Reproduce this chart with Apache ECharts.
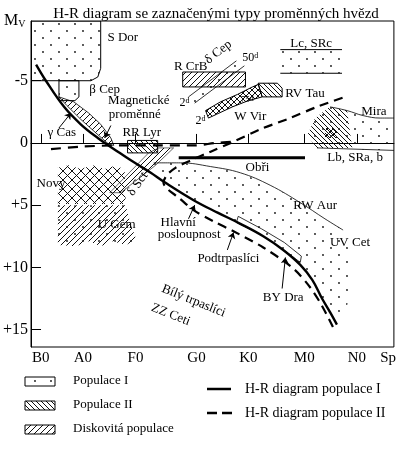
<!DOCTYPE html>
<html>
<head>
<meta charset="utf-8">
<title>H-R diagram</title>
<script src="https://cdn.jsdelivr.net/npm/echarts@6.0.0/dist/echarts.min.js"></script>
<style>
  html, body { margin: 0; padding: 0; background: #fff; }
  #chart { width: 399px; height: 450px; }
</style>
</head>
<body>
<div id="chart"></div>
<script>
// osa x: spektralni trida (libovolne jednotky 0..100), osa y: Mv
const xTickPos = [2.7, 14.3, 28.8, 45.6, 59.9, 75.3, 89.8];
const xTickLabels = ['B0', 'A0', 'F0', 'G0', 'K0', 'M0', 'N0'];
const spPos = 98.4;
const yTicks = [-5, 0, 5, 10, 15];

// H-R diagram populace I a II
const mainSeqPop1 = [[1.4, -6.3], [4.1, -5.0], [9.1, -2.9], [13.7, -1.5], [18.4, -0.4], [23.4, 0.6], [27.5, 1.4], [33.0, 2.4], [36.5, 3.1], [44.8, 4.6], [51.4, 5.6], [57.7, 6.5], [64.0, 7.5], [69.5, 8.6], [74.2, 9.8], [77.5, 11.0], [80.2, 12.5], [82.4, 13.6], [84.3, 14.6]];
const seqPop2 = [[83.2, 14.8], [80.2, 13.1], [76.9, 11.6], [72.3, 10.1], [64.0, 8.4], [55.8, 7.1], [50.3, 6.3], [44.8, 5.4], [40.7, 4.4], [37.6, 3.7], [36.5, 3.2], [37.4, 2.6], [39.8, 2.0], [44.0, 1.4], [49.5, 0.7], [55.8, -0.1], [63.2, -1.1], [71.4, -2.0], [78.8, -2.9], [86.5, -3.7]];
const horizBranchPop2 = [[5.5, 0.5], [13.7, 0.3], [24.7, 0.2], [35.7, 0.2], [45.3, 0.2], [50.8, 0.0], [55.8, -0.1]];
const giants = [[40.7, 1.2], [75.5, 1.2]];
const rwAur = [[33.8, 1.6], [41.2, 1.6], [49.5, 1.9], [57.7, 2.4], [65.9, 3.4], [74.2, 4.8], [81.0, 6.1], [86.0, 7.0]];
const uvCetEdge = [[87.9, 9.0], [87.9, 11.8], [86.5, 14.1]];

// oblasti typu promennych hvezd
const sDor = [[0, -9.8], [19.2, -9.8], [19.2, -6.0], [18.4, -5.3], [16.5, -5.0], [0, -5.0]];
const betaCep = [[7.7, -5.0], [13.2, -5.0], [13.2, -3.7], [12.1, -3.4], [7.7, -3.4]];
const magnetic = [[7.7, -3.7], [11.8, -3.3], [15.9, -2.4], [19.2, -1.5], [22.0, -0.4], [22.8, 0.2], [21.4, 0.1], [17.9, -0.8], [13.7, -1.9], [9.9, -3.0]];
const rrLyr = [[26.6, -0.2], [34.9, -0.2], [34.9, 0.8], [26.6, 0.8]];
const deltaSct = [[32.4, 0.8], [35.2, 0.4], [39.3, 0.4], [34.3, 1.8], [24.7, 4.0], [21.7, 4.0]];
const novae = [[7.4, 2.0], [10.4, 1.8], [13.7, 2.1], [17.0, 1.8], [20.3, 2.1], [23.6, 1.8], [25.8, 2.2], [26.1, 4.9], [7.4, 4.9]];
const uGem = [[7.4, 5.0], [26.1, 5.0], [27.5, 6.6], [29.1, 7.8], [26.1, 8.2], [22.5, 7.9], [19.2, 8.3], [15.9, 7.9], [12.4, 8.3], [7.4, 8.2]];
const rCrB = [[41.8, -5.7], [59.1, -5.7], [59.1, -4.5], [41.8, -4.5]];
const deltaCepA = [[43.4, -3.7], [56.6, -6.6]];
const deltaCepB = [[45.1, -3.2], [58.8, -6.2]];
const wVir = [[48.1, -2.6], [52.2, -3.3], [56.9, -3.9], [61.0, -4.5], [62.6, -4.7], [63.7, -3.7], [59.9, -3.4], [55.5, -2.9], [51.1, -2.3], [48.9, -2.0]];
const rvTau = [[62.6, -4.8], [67.9, -4.8], [69.2, -4.4], [69.2, -3.7], [63.7, -3.7]];
const lcSrcTop = [[68.7, -7.5], [85.7, -7.5]];
const lcSrcBottom = [[68.7, -5.6], [85.7, -5.6]];
const miraTop = [[82.4, -2.9], [87.1, -2.6], [91.5, -2.2], [96.2, -2.0], [100, -2.0]];
const miraBottom = [[78.8, 0.4], [100, 0.6]];
const miraLeft = [[76.1, -0.6], [78.3, -2.0]];
const miraHatch = [[76.1, -0.6], [78.3, -2.0], [82.4, -2.9], [87.1, -2.6], [88.5, 0.4], [78.8, 0.4]];
const miraCore = [[81.0, -1.2], [84.3, -1.2], [84.3, -0.4], [81.0, -0.4]];
const subdwarfs = [[57.1, 5.9], [63.5, 6.9], [69.8, 8.0], [74.5, 9.1], [74.2, 9.6], [69.2, 8.5], [62.9, 7.3], [56.6, 6.4]];

// popisky
const annoText = ['S Dor', 'β Cep', 'γ Cas', 'Magnetické', 'proměnné', 'RR Lyr', 'δ Sct', 'Novy', 'U Gem', 'R CrB', 'δ Cep', '50{s|d}', '2{s|d}', '2{s|d}', '75{s|d}', 'W Vir', 'RV Tau', 'Lc, SRc', 'Mira', 'Lb, SRa, b', 'Obři', 'RW Aur', 'UV Cet', 'Hlavní', 'posloupnost', 'Podtrpaslíci', 'BY Dra', 'Bílý trpaslíci', 'ZZ Ceti'];
const annoAt = [[25.3, -8.5], [20.3, -4.3], [8.5, -0.8], [29.7, -3.4], [28.6, -2.3], [30.5, -0.8], [29.4, 3.3], [5.5, 3.3], [23.6, 6.6], [44.0, -6.1], [51.6, -7.3], [60.4, -6.8], [42.3, -3.2], [46.7, -1.8], [59.6, -3.5], [60.4, -2.1], [75.5, -4.0], [77.2, -8.0], [94.5, -2.5], [89.3, 1.2], [62.4, 2.0], [78.3, 5.0], [87.9, 8.0], [35.7, 6.4], [34.9, 7.4], [54.4, 9.3], [69.5, 12.4], [44.8, 12.7], [38.5, 13.8]];
const annoAngle = [0, 0, 0, 0, 0, 0, 55, 0, 0, 0, 38, 0, 0, 0, 0, 0, 0, 0, 0, 0, 0, 0, 0, 0, 0, 0, 0, -22, -22];
const annoLeft = ['Hlavní', 'posloupnost'];

const arrows = [
  [[7.7, -1.2], [11.0, -2.4]],
  [[22.0, -1.4], [20.3, -0.4]],
  [[43.4, 6.1], [45.1, 5.0]],
  [[54.1, 8.6], [55.8, 7.2]],
  [[69.2, 11.7], [70.1, 9.2]]
];

const FONT = '"Liberation Serif", "DejaVu Serif", serif';

// vzory srafovani
function makePattern(kind) {
  const c = document.createElement('canvas');
  let w = 6, h = 6;
  if (kind === 'dots') { w = 16; h = 14; }
  if (kind === 'back') { w = 5; h = 5; }
  if (kind === 'crossWide') { w = 9; h = 9; }
  c.width = w; c.height = h;
  const ctx = c.getContext('2d');
  ctx.strokeStyle = '#111';
  ctx.fillStyle = '#111';
  ctx.lineWidth = 1;
  if (kind === 'dots') {
    ctx.beginPath(); ctx.arc(3, 3, 0.9, 0, Math.PI * 2); ctx.fill();
    ctx.beginPath(); ctx.arc(11, 10, 0.9, 0, Math.PI * 2); ctx.fill();
    return { image: c, repeat: 'repeat' };
  }
  const fwd = kind === 'fwd' || kind === 'cross' || kind === 'crossWide';
  const back = kind === 'back' || kind === 'cross' || kind === 'crossWide';
  ctx.beginPath();
  for (const k of [-w, 0, w]) {
    if (fwd) { ctx.moveTo(k, h); ctx.lineTo(k + w, 0); }
    if (back) { ctx.moveTo(k, 0); ctx.lineTo(k + w, h); }
  }
  ctx.stroke();
  return { image: c, repeat: 'repeat' };
}
const patterns = {};
['dots', 'back', 'fwd', 'cross', 'crossWide'].forEach(k => { patterns[k] = makePattern(k); });

const popIRegion = rwAur.concat(uvCetEdge, mainSeqPop1.slice(7).reverse());
const deltaCepBand = deltaCepA.concat(deltaCepB.slice().reverse());
const lcSrcBand = lcSrcTop.concat(lcSrcBottom.slice().reverse());
const miraRegion = miraTop.concat(miraBottom.slice().reverse(), miraLeft);

const regions = [
  { pts: popIRegion, fill: 'dots' },
  { pts: sDor, fill: 'dots', stroke: 1 },
  { pts: betaCep, fill: 'dots', stroke: 1 },
  { pts: magnetic, fill: 'fwd', stroke: 0.8 },
  { pts: deltaSct, fill: 'fwd', stroke: 0.6 },
  { pts: rrLyr, fill: 'back', stroke: 1 },
  { pts: novae, fill: 'crossWide' },
  { pts: uGem, fill: 'fwd' },
  { pts: uGem, fill: 'dots' },
  { pts: deltaCepBand, fill: 'dots' },
  { pts: rCrB, fill: 'fwd', stroke: 1 },
  { pts: wVir, fill: 'cross', stroke: 1 },
  { pts: rvTau, fill: 'back', stroke: 1 },
  { pts: lcSrcBand, fill: 'dots' },
  { pts: miraRegion, fill: 'dots' },
  { pts: miraHatch, fill: 'back' },
  { pts: miraCore, fill: 'cross' },
  { pts: subdwarfs, fill: null, stroke: 0.8 }
];

function curve(data, width, type, smooth) {
  return {
    type: 'line', data: data, symbol: 'none', showSymbol: false, smooth: smooth || false,
    silent: true, z: 4, lineStyle: { color: '#000', width: width, type: type || 'solid' }
  };
}

const chart = echarts.init(document.getElementById('chart'));
chart.setOption({
  animation: false,
  backgroundColor: '#fff',
  title: {
    text: 'H-R diagram se zaznačenými typy proměnných hvězd',
    left: 211, top: 2, textAlign: 'center',
    textStyle: { fontFamily: FONT, fontSize: 15, fontWeight: 'normal', color: '#000' }
  },
  grid: { left: 30, right: 5, top: 21, bottom: 103, show: true, borderColor: '#000', borderWidth: 1 },
  xAxis: {
    type: 'value', min: 0, max: 100,
    axisLine: { lineStyle: { color: '#000', width: 1 } },
    axisTick: { inside: true, length: 9, customValues: xTickPos, lineStyle: { color: '#000' } },
    axisLabel: {
      customValues: xTickPos.concat([spPos]), margin: 4, color: '#000', fontFamily: FONT, fontSize: 15,
      formatter: v => {
        const i = xTickPos.indexOf(v);
        return i >= 0 ? xTickLabels[i] : 'Sp';
      }
    },
    splitLine: { show: false }
  },
  yAxis: {
    type: 'value', min: -9.8, max: 16.4, inverse: true,
    axisLine: { lineStyle: { color: '#000', width: 1 } },
    axisTick: { inside: true, length: 10, customValues: yTicks, lineStyle: { color: '#000' } },
    axisLabel: {
      customValues: yTicks, margin: 3, color: '#000', fontFamily: FONT, fontSize: 16,
      formatter: v => (v > 0 ? '+' + v : String(v))
    },
    splitLine: { show: false }
  },
  graphic: [
    { type: 'text', left: 4, top: 13, style: { text: 'M{v|V}', fontFamily: FONT, fontSize: 16, fill: '#000', rich: { v: { fontFamily: FONT, fontSize: 10, verticalAlign: 'bottom', padding: [6, 0, 0, 0] } } } },
    { type: 'rect', shape: { x: 25, y: 377, width: 30, height: 9 }, style: { fill: patterns.dots, stroke: '#000', lineWidth: 1 } },
    { type: 'rect', shape: { x: 25, y: 401, width: 30, height: 9 }, style: { fill: patterns.back, stroke: '#000', lineWidth: 1 } },
    { type: 'rect', shape: { x: 25, y: 425, width: 30, height: 9 }, style: { fill: patterns.fwd, stroke: '#000', lineWidth: 1 } },
    { type: 'text', x: 73, y: 381, style: { text: 'Populace I', fontFamily: FONT, fontSize: 13, fill: '#000', verticalAlign: 'middle' } },
    { type: 'text', x: 73, y: 405, style: { text: 'Populace II', fontFamily: FONT, fontSize: 13, fill: '#000', verticalAlign: 'middle' } },
    { type: 'text', x: 73, y: 429, style: { text: 'Diskovitá populace', fontFamily: FONT, fontSize: 13, fill: '#000', verticalAlign: 'middle' } },
    { type: 'line', shape: { x1: 207, y1: 389, x2: 231, y2: 389 }, style: { stroke: '#000', lineWidth: 2.5 } },
    { type: 'line', shape: { x1: 207, y1: 413, x2: 232, y2: 413 }, style: { stroke: '#000', lineWidth: 2.5, lineDash: [10, 5] } },
    { type: 'text', x: 245, y: 389, style: { text: 'H-R diagram populace I', fontFamily: FONT, fontSize: 14, fill: '#000', verticalAlign: 'middle' } },
    { type: 'text', x: 245, y: 413, style: { text: 'H-R diagram populace II', fontFamily: FONT, fontSize: 14, fill: '#000', verticalAlign: 'middle' } }
  ],
  series: [
    {
      type: 'custom', name: 'oblasti', silent: true, z: 2, clip: true,
      data: regions.map(r => r.pts[0]),
      renderItem: (params, api) => {
        const r = regions[params.dataIndex];
        return {
          type: 'polygon',
          shape: { points: r.pts.map(p => api.coord(p)) },
          style: {
            fill: r.fill ? patterns[r.fill] : 'rgba(255,255,255,0)',
            stroke: r.stroke ? '#000' : null,
            lineWidth: r.stroke || 0
          }
        };
      }
    },
    curve(mainSeqPop1, 2.4, 'solid', 0.4),
    curve(seqPop2, 2.2, [9, 6], 0.3),
    curve(horizBranchPop2, 2.2, [10, 7], 0.3),
    curve(giants, 3, 'solid'),
    curve(rwAur, 0.8, 'solid', 0.4),
    curve(lcSrcTop, 1, 'solid'),
    curve(lcSrcBottom, 1, 'solid'),
    curve(deltaCepA, 0.8, 'solid'),
    curve(deltaCepB, 0.8, 'solid'),
    curve(miraTop, 0.8, 'solid', 0.4),
    curve(miraBottom, 0.8, 'solid'),
    {
      type: 'lines', coordinateSystem: 'cartesian2d', silent: true, z: 5,
      symbol: ['none', 'arrow'], symbolSize: 6,
      lineStyle: { color: '#000', width: 1, opacity: 1 },
      data: arrows.map(a => ({ coords: a }))
    },
    {
      type: 'custom', name: 'popisky', silent: true, z: 6,
      data: annoAt,
      renderItem: (params, api) => {
        const i = params.dataIndex;
        const p = api.coord(annoAt[i]);
        const t = annoText[i];
        const small = t.indexOf('{s|') >= 0;
        return {
          type: 'text', x: p[0], y: p[1], rotation: annoAngle[i] * Math.PI / 180,
          style: {
            text: t, fontFamily: FONT, fontSize: t.indexOf('75') === 0 ? 9 : (small ? 12 : 13), fill: '#000',
            align: annoLeft.indexOf(t) >= 0 ? 'left' : 'center', verticalAlign: 'middle',
            rich: { s: { fontFamily: FONT, fontSize: 8, verticalAlign: 'top' } }
          }
        };
      }
    }
  ]
});
</script>
</body>
</html>
